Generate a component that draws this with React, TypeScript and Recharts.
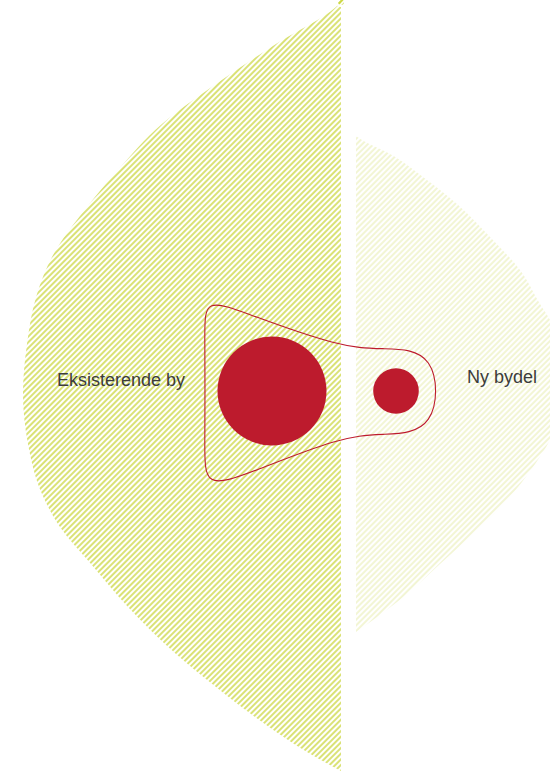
import { ComposedChart, Area, Line, Scatter, XAxis, YAxis } from 'recharts';

const W = 550;
const H = 777;

// existing city: outer edge (x) for each y, closed against the spine at x = 341
const leftY = [6, 25, 50, 90, 123, 170, 213, 250, 283, 333, 383, 433, 483, 520, 570, 607, 653, 693, 733, 770, 775];
const leftX = [341, 307, 269, 216, 176, 128, 91, 60, 42, 28, 23, 27, 37, 52, 87, 118, 162, 216, 276, 336, 341];
const LEFT_SPINE = 341;

// new district: outer edge (x) for each y, closed against x = 356 (runs off the page on the right)
const rightY = [145, 157, 183, 213, 243, 277, 310, 337, 360, 390, 420, 457, 473, 507, 540, 573, 600, 623, 637, 641];
const rightX = [356, 373, 407, 440, 473, 507, 533, 550, 560, 565, 560, 550, 540, 520, 490, 457, 423, 390, 362, 356];
const RIGHT_SPINE = 356;

// red link outline, control points of a closed spline
const linkX = [205, 205, 204, 250, 340, 380, 438, 438, 380, 340, 250, 204];
const linkY = [445, 330, 288, 304, 340, 343, 344, 428, 428, 430, 462, 480];

// the two centres
const nodeX = [272, 396];
const nodeY = [386, 386];
const nodeR = [54.5, 22.8];

const labelText = ['Eksisterende by', 'Ny bydel'];
const labelX = [57, 467];
const labelY = [391, 394];

const RED = '#bd1b2d';
const PX = W / 550;

const leftData = leftY.map((y, i) => ({ y, x: [leftX[i], LEFT_SPINE] }));
const rightData = rightY.map((y, i) => ({ y, x: [RIGHT_SPINE, rightX[i]] }));
const linkData = linkY.map((y, i) => ({ y, x: linkX[i] }));
const nodeData = nodeX.map((x, i) => ({ x, y: nodeY[i], r: nodeR[i] }));
const labelData = labelText.map((text, i) => ({ x: labelX[i], y: labelY[i], text }));

const NodeShape = (props: any) => (
  <circle cx={props.cx} cy={props.cy} r={props.payload.r * PX} fill={RED} />
);

const LabelShape = (props: any) => (
  <text
    x={props.cx}
    y={props.cy}
    fill="#3c3c3c"
    fontSize={18}
    fontFamily="'Liberation Sans', Arial, sans-serif"
  >
    {props.payload.text}
  </text>
);

export default function App() {
  return (
    <div style={{ position: 'absolute', left: 0, top: 0, width: W, height: H, background: '#fff' }}>
      <ComposedChart width={W} height={H} layout="vertical" margin={{ top: 0, right: 0, bottom: 0, left: 0 }}>
        <defs>
          <pattern id="hatchStrong" patternUnits="userSpaceOnUse" width="4" height="4" patternTransform="rotate(45)">
            <line x1="2" y1="0" x2="2" y2="4" stroke="#c6d22c" strokeWidth={1.3} />
          </pattern>
          <pattern id="hatchPale" patternUnits="userSpaceOnUse" width="4" height="4" patternTransform="rotate(45)">
            <line x1="2" y1="0" x2="2" y2="4" stroke="#e6ecaa" strokeWidth={1} />
          </pattern>
        </defs>
        <XAxis type="number" dataKey="x" domain={[0, 550]} allowDataOverflow hide />
        <YAxis type="number" dataKey="y" domain={[0, 777]} allowDataOverflow reversed hide />

        {/* the two fields */}
        <Area
          data={leftData}
          dataKey="x"
          type="monotone"
          stroke="none"
          fill="url(#hatchStrong)"
          fillOpacity={1}
          isAnimationActive={false}
        />
        <Area
          data={rightData}
          dataKey="x"
          type="monotone"
          stroke="none"
          fill="url(#hatchPale)"
          fillOpacity={1}
          isAnimationActive={false}
        />

        {/* link outline */}
        <Line
          data={linkData}
          dataKey="x"
          type="basisClosed"
          stroke={RED}
          strokeWidth={1.1}
          dot={false}
          activeDot={false}
          isAnimationActive={false}
        />

        <Scatter data={nodeData} dataKey="x" shape={NodeShape} isAnimationActive={false} />
        <Scatter data={labelData} dataKey="x" shape={LabelShape} isAnimationActive={false} />
      </ComposedChart>
    </div>
  );
}
